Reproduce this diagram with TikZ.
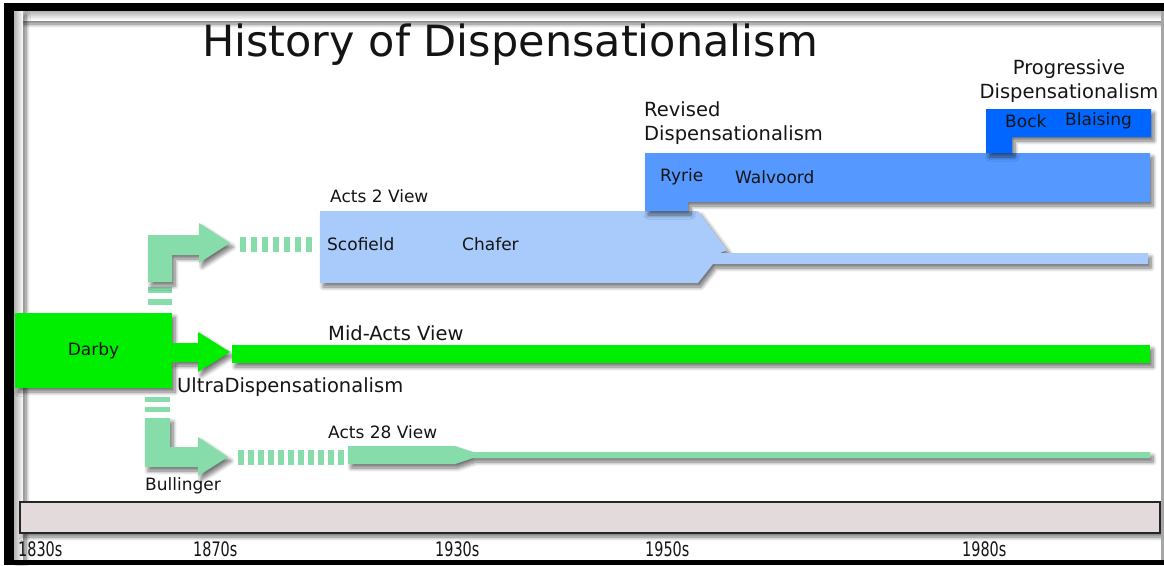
\documentclass[tikz,border=0pt]{standalone}
\usepackage{fontspec}
\setmainfont{DejaVu Sans}
\usepackage{tikz}
\usetikzlibrary{shadows.blur}

\definecolor{darbygreen}{RGB}{0,238,0}
\definecolor{mint}{RGB}{135,221,170}
\definecolor{paleblue}{RGB}{168,203,252}
\definecolor{midblue}{RGB}{85,152,255}
\definecolor{deepblue}{RGB}{0,102,255}
\definecolor{barpink}{RGB}{227,219,219}

\begin{document}
\begin{tikzpicture}[x=1pt, y=-1pt,
    shade/.style={blur shadow={shadow xshift=3pt, shadow yshift=-4pt, shadow blur steps=8, shadow blur radius=4pt, shadow opacity=55}},
    lbl/.style={text=black!92, inner sep=0pt, anchor=west, font=\fontsize{17}{20}\selectfont},
    biglbl/.style={lbl, font=\fontsize{19.5}{24}\selectfont},
    yearlbl/.style={lbl, font=\fontsize{20}{24}\selectfont}]
        \useasboundingbox (0,0) rectangle (1164,565);
        % Inner shade of the frame
        \shade[top color=black!30, bottom color=white] (14,11) rectangle (1161,20);
        \shade[left color=black!30, right color=white] (14,11) rectangle (23,560);

        % Title and time line
        \node[font=\fontsize{43}{50}\selectfont, text=black!92, inner sep=0pt] (title) at (510,45) {History of Dispensationalism};
        \node[draw=black!85, line width=2.5pt, fill=barpink, minimum width=1140pt, minimum height=31pt, inner sep=0pt, shade] (timeline) at (590,517.5) {};
        \node[yearlbl] (y1830) at (18,549) {\scalebox{0.72}[1]{1830s}};
        \node[yearlbl] (y1870) at (193,549) {\scalebox{0.72}[1]{1870s}};
        \node[yearlbl] (y1930) at (435,549) {\scalebox{0.72}[1]{1930s}};
        \node[yearlbl] (y1950) at (645,549) {\scalebox{0.72}[1]{1950s}};
        \node[yearlbl] (y1980) at (962,549) {\scalebox{0.72}[1]{1980s}};

        % Darby and the three branches
        \node[fill=darbygreen, minimum width=157pt, minimum height=75pt, inner sep=0pt, shade, text=black!92, font=\fontsize{17}{20}\selectfont] (darby) at (93.5,350.5) {Darby};
        \fill[darbygreen, shade] (172,343) -- (198,343) -- (198,332) -- (230,352) -- (198,372) -- (198,362) -- (172,362) -- cycle;
        \node[fill=darbygreen, minimum width=918pt, minimum height=18pt, inner sep=0pt, shade] (midacts) at (691,354) {};
        \node[biglbl] (midlbl) at (328,333) {Mid-Acts View};
        \node[biglbl] (ultra) at (177,387) {UltraDispensationalism};

        % Acts 2 branch
        \fill[mint] (148,287) rectangle (172,293);
        \fill[mint] (148,299) rectangle (172,305);
        \fill[mint, shade] (148,282) -- (148,235) -- (199,235) -- (199,223) -- (230,243) -- (199,263) -- (199,255) -- (172,255) -- (172,282) -- cycle;
        \foreach \i in {0,...,6}
            \fill[mint] ({240+11*\i},237) rectangle +(6,15);
        \fill[paleblue, shade] (320,211) -- (698,211) -- (727,250) -- (720,253) -- (1148,253) -- (1148,264) -- (713,264) -- (698,283) -- (320,283) -- cycle;
        \node[lbl] (acts2) at (330,196) {Acts 2 View};
        \node[lbl] (scofield) at (327,244) {Scofield};
        \node[lbl] (chafer) at (462,244) {Chafer};

        % Revised and progressive
        \fill[midblue, shade] (645,153) -- (1150,153) -- (1150,202) -- (688,202) -- (688,211) -- (645,211) -- cycle;
        \node[biglbl, align=left] (revised) at (644,123) {Revised\\Dispensationalism};
        \node[lbl] (ryrie) at (660,177) {Ryrie};
        \node[lbl] (walvoord) at (735,177) {Walvoord};
        \fill[deepblue, shade] (986,109) -- (1151,109) -- (1151,137) -- (1012,137) -- (1012,153) -- (986,153) -- cycle;
        \node[biglbl, anchor=center, align=center] (progressive) at (1069,81.5) {Progressive\\Dispensationalism};
        \node[lbl] (bock) at (1005,121) {Bock};
        \node[lbl] (blaising) at (1065,121) {Blaising};

        % Acts 28 branch
        \fill[mint] (145,397) rectangle (170,402);
        \fill[mint] (145,407) rectangle (170,412);
        \fill[mint, shade] (145,418) -- (170,418) -- (170,447) -- (198,447) -- (198,437) -- (228,457) -- (198,476) -- (198,467) -- (145,467) -- cycle;
        \foreach \i in {0,...,10}
            \fill[mint] ({238+10*\i},450) rectangle +(6,15);
        \fill[mint, shade] (348,446) -- (455,446) -- (473,452) -- (1150,452) -- (1150,458) -- (473,458) -- (455,464) -- (348,464) -- cycle;
        \node[lbl] (acts28) at (328,432) {Acts 28 View};
        \node[lbl, font=\fontsize{17}{20}\selectfont] (bullinger) at (145,486) {Bullinger};

        % Frame
        \fill[black] (4,3) rectangle (1164,11);
        \fill[black] (4,3) rectangle (14,565);
        \fill[black] (4,560) rectangle (1164,565);
        \fill[black!35] (1161,11) rectangle (1164,560);
    \end{tikzpicture}
\end{document}
